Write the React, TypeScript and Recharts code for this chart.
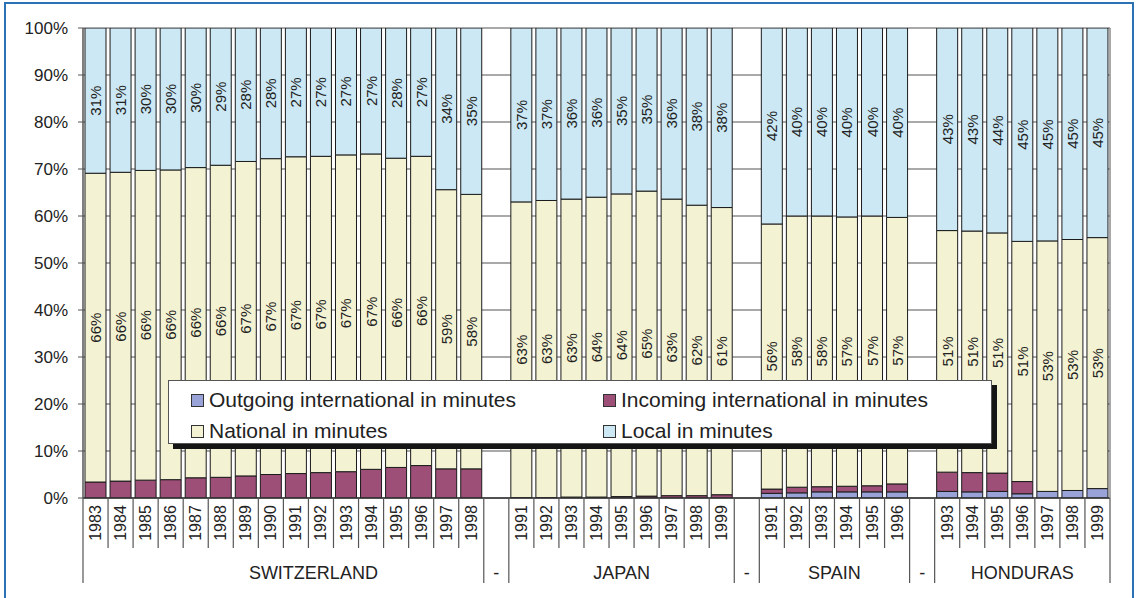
import React from 'react';
import { BarChart, Bar, XAxis, YAxis, CartesianGrid, Legend, LabelList } from 'recharts';

const FONT = '"Liberation Sans", Arial, Helvetica, sans-serif';

const W = 1137;
const H = 598;
const PLOT_LEFT = 83;
const PLOT_RIGHT = 1110;

const SERIES = [
  { key: 'outgoing', name: 'Outgoing international in minutes', color: '#99a3d7' },
  { key: 'incoming', name: 'Incoming international in minutes', color: '#9e4f78' },
  { key: 'national', name: 'National in minutes', color: '#f3f2d2' },
  { key: 'local', name: 'Local in minutes', color: '#cbe8f4' },
];

const Y_TICKS = [0, 10, 20, 30, 40, 50, 60, 70, 80, 90, 100];

// values in % of total minutes
const SWISS_YEARS = ['1983', '1984', '1985', '1986', '1987', '1988', '1989', '1990', '1991', '1992', '1993', '1994', '1995', '1996', '1997', '1998'];
const SWISS_OUT = [0, 0, 0, 0, 0, 0, 0, 0, 0, 0, 0, 0, 0, 0, 0, 0];
const SWISS_IN = [3.4, 3.6, 3.8, 3.9, 4.3, 4.4, 4.7, 5.0, 5.2, 5.4, 5.6, 6.1, 6.5, 6.9, 6.2, 6.2];
const SWISS_NAT = [65.7, 65.7, 65.9, 65.9, 66.0, 66.4, 66.9, 67.2, 67.4, 67.3, 67.4, 67.1, 65.8, 65.8, 59.4, 58.4];
const SWISS_LOC = [30.9, 30.7, 30.3, 30.2, 29.7, 29.2, 28.4, 27.8, 27.4, 27.3, 27.0, 26.8, 27.7, 27.3, 34.4, 35.4];

const JAPAN_YEARS = ['1991', '1992', '1993', '1994', '1995', '1996', '1997', '1998', '1999'];
const JAPAN_OUT = [0, 0, 0, 0, 0, 0, 0, 0, 0];
const JAPAN_IN = [0.1, 0.1, 0.2, 0.2, 0.3, 0.4, 0.5, 0.5, 0.7];
const JAPAN_NAT = [62.9, 63.2, 63.4, 63.8, 64.4, 64.9, 63.1, 61.8, 61.1];
const JAPAN_LOC = [37.0, 36.7, 36.4, 36.0, 35.3, 34.7, 36.4, 37.7, 38.2];

const SPAIN_YEARS = ['1991', '1992', '1993', '1994', '1995', '1996'];
const SPAIN_OUT = [1.0, 1.1, 1.3, 1.3, 1.3, 1.3];
const SPAIN_IN = [0.9, 1.2, 1.1, 1.2, 1.3, 1.7];
const SPAIN_NAT = [56.4, 57.7, 57.6, 57.3, 57.4, 56.7];
const SPAIN_LOC = [41.7, 40.0, 40.0, 40.2, 40.0, 40.3];

const HOND_YEARS = ['1993', '1994', '1995', '1996', '1997', '1998', '1999'];
const HOND_OUT = [1.4, 1.3, 1.4, 0.9, 1.4, 1.6, 2.0];
const HOND_IN = [4.1, 4.1, 3.9, 2.6, 0, 0, 0];
const HOND_NAT = [51.4, 51.4, 51.1, 51.1, 53.3, 53.4, 53.4];
const HOND_LOC = [43.1, 43.2, 43.6, 45.4, 45.3, 45.0, 44.6];

const COUNTRIES = [
  { name: 'SWITZERLAND', years: SWISS_YEARS, outgoing: SWISS_OUT, incoming: SWISS_IN, national: SWISS_NAT, local: SWISS_LOC },
  { name: 'JAPAN', years: JAPAN_YEARS, outgoing: JAPAN_OUT, incoming: JAPAN_IN, national: JAPAN_NAT, local: JAPAN_LOC },
  { name: 'SPAIN', years: SPAIN_YEARS, outgoing: SPAIN_OUT, incoming: SPAIN_IN, national: SPAIN_NAT, local: SPAIN_LOC },
  { name: 'HONDURAS', years: HOND_YEARS, outgoing: HOND_OUT, incoming: HOND_IN, national: HOND_NAT, local: HOND_LOC },
];

// the Swiss group label sits a little right of the group middle in the original
const LABEL_SHIFT: Record<string, number> = { SWITZERLAND: 30 };

const ROWS: any[] = [];
COUNTRIES.forEach((c, ci) => {
  if (ci > 0) ROWS.push({ key: `gap${ci}`, year: '', group: '-', gid: `gap${ci}` });
  c.years.forEach((y, i) => {
    ROWS.push({
      key: `${c.name}-${y}`,
      year: y,
      group: c.name,
      gid: c.name,
      outgoing: c.outgoing[i],
      incoming: c.incoming[i],
      national: c.national[i],
      local: c.local[i],
    });
  });
});

const RANGES: { gid: string; start: number; end: number }[] = [];
ROWS.forEach((r, i) => {
  const last = RANGES[RANGES.length - 1];
  if (last && last.gid === r.gid) last.end = i;
  else RANGES.push({ gid: r.gid, start: i, end: i });
});

const BAND = (PLOT_RIGHT - PLOT_LEFT) / ROWS.length;

const XTick = (props: any) => {
  const x = Number(props.x);
  const y = Number(props.y);
  const index = props.index ?? props.payload?.index;
  const row = ROWS[index];
  if (!row) return null;
  const half = BAND / 2;
  const range = RANGES.find((r) => r.gid === row.gid)!;
  const isStart = index === range.start;
  const isLast = index === ROWS.length - 1;
  const len = range.end - range.start + 1;
  const mid = x - half + (len * BAND) / 2 + (LABEL_SHIFT[row.group] || 0);
  const ty = y + 25;
  return (
    <g>
      <line x1={x - half} x2={x - half} y1={y} y2={y + (isStart ? 85 : 50)} stroke="#555" strokeWidth={1.2} />
      {isLast && <line x1={x + half} x2={x + half} y1={y} y2={y + 85} stroke="#555" strokeWidth={1.2} />}
      {row.year && (
        <text
          x={x}
          y={ty}
          transform={`rotate(-90 ${x} ${ty})`}
          textAnchor="middle"
          dominantBaseline="central"
          fontSize={16}
          fill="#222"
          fontFamily={FONT}
        >
          {row.year}
        </text>
      )}
      {isStart && (
        <text x={mid} y={y + 75} textAnchor="middle" dominantBaseline="central" fontSize={18} fill="#222" fontFamily={FONT}>
          {row.group}
        </text>
      )}
    </g>
  );
};

const renderValue = (p: any) => {
  const { value } = p;
  if (value == null || value === '') return null;
  const cx = Number(p.x) + Number(p.width) / 2;
  const cy = Number(p.y) + Number(p.height) / 2;
  return (
    <text
      x={cx}
      y={cy}
      transform={`rotate(-90 ${cx} ${cy})`}
      textAnchor="middle"
      dominantBaseline="central"
      fontSize={15}
      fill="#222"
      fontFamily={FONT}
    >
      {Math.round(Number(value))}%
    </text>
  );
};

const renderLegend = (props: any) => {
  const items = [...(props.payload || [])].sort(
    (a: any, b: any) => SERIES.findIndex((s) => s.key === a.dataKey) - SERIES.findIndex((s) => s.key === b.dataKey)
  );
  return (
    <div
      style={{
        position: 'relative',
        width: 824,
        height: 64,
        boxSizing: 'border-box',
        background: '#fff',
        border: '1px solid #555',
        boxShadow: '5px 5px 0 #151515',
        fontFamily: FONT,
        fontSize: 21,
        color: '#222',
      }}
    >
      {items.map((it: any, i: number) => (
        <div
          key={it.dataKey}
          style={{
            position: 'absolute',
            left: i % 2 === 0 ? 22 : 434,
            top: i < 2 ? 6 : 37,
            height: 26,
            display: 'flex',
            alignItems: 'center',
            whiteSpace: 'nowrap',
          }}
        >
          <span
            style={{
              display: 'inline-block',
              width: 11,
              height: 11,
              background: it.color,
              border: '1px solid #333',
              marginRight: 5,
            }}
          />
          <span>{it.value}</span>
        </div>
      ))}
    </div>
  );
};

export default function App() {
  return (
    <div style={{ position: 'absolute', left: 0, top: 0, width: W, height: H, overflow: 'hidden', background: '#fff' }}>
      <div
        style={{
          position: 'absolute',
          left: 4,
          top: 2,
          width: 1130,
          height: 640,
          boxSizing: 'border-box',
          border: '2px solid #2a72b4',
        }}
      />
      <div style={{ position: 'absolute', left: 0, top: 0 }}>
        <BarChart
          width={W}
          height={H}
          data={ROWS}
          margin={{ top: 28, right: 26, bottom: 15, left: 0 }}
          barCategoryGap="8%"
        >
          <CartesianGrid vertical={false} stroke="#8c8c8c" strokeWidth={1.3} />
          <XAxis
            dataKey="key"
            type="category"
            interval={0}
            height={85}
            tickLine={false}
            tickSize={0}
            tickMargin={0}
            tick={<XTick />}
            axisLine={{ stroke: '#333', strokeWidth: 1.5 }}
          />
          <YAxis
            width={83}
            domain={[0, 100]}
            ticks={Y_TICKS}
            allowDataOverflow
            tickFormatter={(v: number) => `${v}%`}
            tick={{ fontSize: 17, fill: '#222', fontFamily: FONT }}
            tickSize={5}
            tickMargin={10}
            tickLine={{ stroke: '#555' }}
            axisLine={{ stroke: '#555', strokeWidth: 1.5 }}
          />
          <YAxis
            yAxisId="r"
            orientation="right"
            width={1}
            domain={[0, 100]}
            ticks={Y_TICKS}
            tick={false}
            tickLine={false}
            axisLine={{ stroke: '#8c8c8c', strokeWidth: 1.5 }}
          />
          <Legend
            layout="vertical"
            verticalAlign="middle"
            align="center"
            content={renderLegend}
            wrapperStyle={{ left: 168, top: 380, width: 830, height: 70 }}
          />
          {SERIES.map((s) => (
            <Bar
              key={s.key}
              dataKey={s.key}
              name={s.name}
              stackId="a"
              fill={s.color}
              stroke="#1b1b1b"
              strokeWidth={1}
              isAnimationActive={false}
            >
              {(s.key === 'national' || s.key === 'local') && (
                <LabelList dataKey={s.key} content={renderValue} />
              )}
            </Bar>
          ))}
        </BarChart>
      </div>
    </div>
  );
}
